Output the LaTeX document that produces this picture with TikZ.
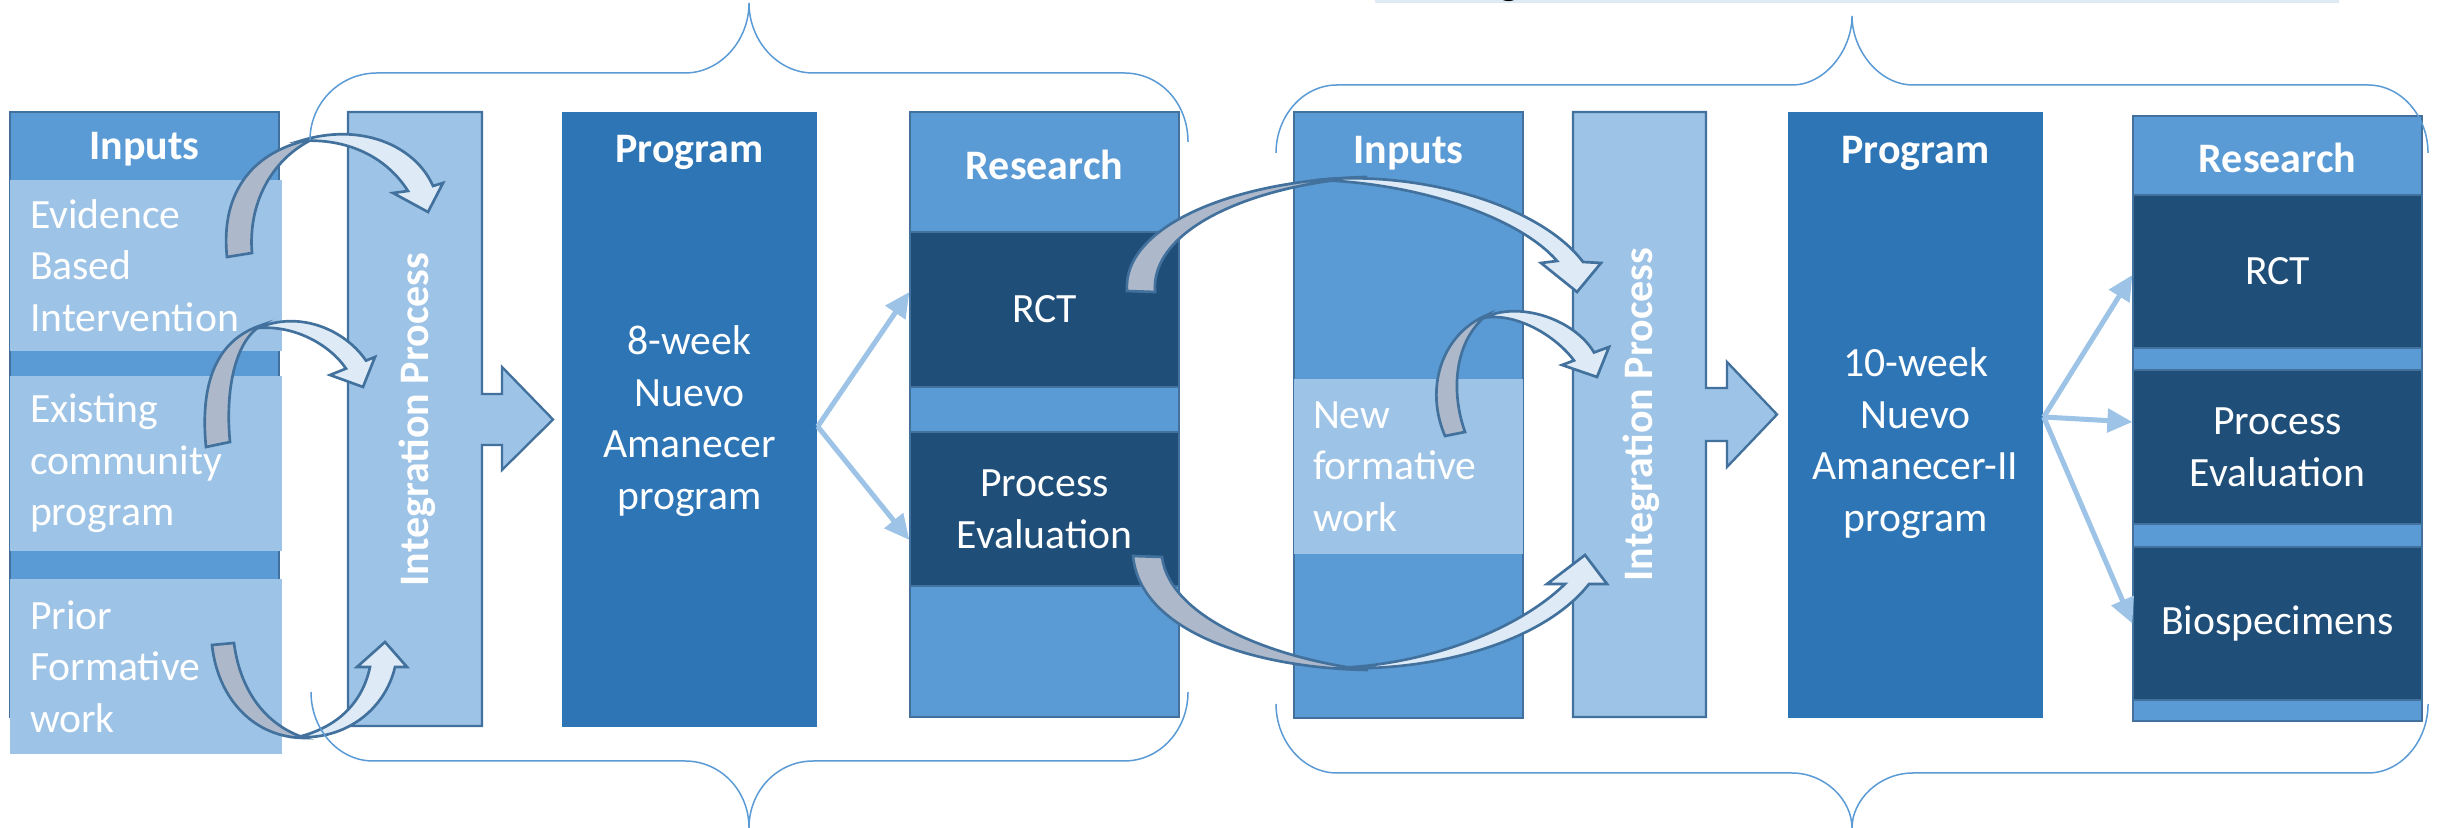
\documentclass[tikz,border=0pt]{standalone}
\usepackage{fontspec}
\setmainfont{Carlito}
\usetikzlibrary{arrows.meta,calc}

\definecolor{midblue}{HTML}{5B9BD5}
\definecolor{liteblue}{HTML}{9DC3E6}
\definecolor{progblue}{HTML}{2E75B6}
\definecolor{darkblue}{HTML}{1F4E79}
\definecolor{edgeblue}{HTML}{41719C}
\definecolor{ribgray}{HTML}{ADB9CA}
\definecolor{ribpale}{HTML}{DEEBF7}

\begin{document}
\begin{tikzpicture}[x=0.3pt,y=0.3pt,yscale=-1,xscale=1,
  txt/.style={text=white,inner sep=0pt,align=center,font=\fontsize{12.5}{15.5}\selectfont},
  headtxt/.style={txt,font=\fontsize{12.6}{15.5}\selectfont\bfseries},
  colbox/.style={draw=edgeblue,line width=0.6pt,fill=midblue,inner sep=0pt,minimum height=181.5pt},
  litebox/.style={fill=liteblue,text=white,inner sep=0pt,inner xsep=6pt,align=left,minimum height=52.5pt,font=\fontsize{12.5}{15.5}\selectfont},
  darkbox/.style={txt,fill=darkblue,draw=edgeblue,line width=0.4pt,minimum height=46.2pt},
  progbox/.style={fill=progblue,inner sep=0pt,minimum width=76.5pt},
  intbar/.style={fill=liteblue,draw=edgeblue,line width=0.7pt},
  ribback/.style={fill=ribgray,draw=edgeblue,line width=0.8pt},
  ribfront/.style={fill=ribpale,draw=edgeblue,line width=0.8pt},
  thinarrow/.style={draw=liteblue,line width=1.5pt,-{Triangle[length=7.5pt,width=7pt]}},
  brace/.style={draw=midblue,line width=0.45pt}]
%set diagram frame to the reference size
\path[fill=white,use as bounding box] (0,0) rectangle (2438,828);

%Caption strip (cut off at the top)
\fill[ribpale] (1375,0) rectangle (2339,3);
\node[font=\fontsize{12.6}{15}\selectfont\bfseries,anchor=base,inner sep=0pt] (capfrag) at (1509,-5) {g};

%%%%% first study
%Shape: Inputs column
\node[colbox,minimum width=80.7pt] (in1) at (144.5,414.5) {};
\node[headtxt] (in1head) at (144.5,149) {Inputs};
\node[litebox,minimum width=81.6pt,text width=69.6pt,minimum height=51.3pt] (ebi) at (146,265.5) {Evidence\\Based\\Intervention};
\node[litebox,minimum width=81.6pt,text width=69.6pt] (ecp) at (146,463.5) {Existing\\community\\program};
\node[litebox,minimum width=81.6pt,text width=69.6pt] (pfw) at (146,666.5) {Prior\\Formative\\work};

%Shape: Integration arrow
\draw[intbar] (348,112) -- (482,112) -- (482,394) -- (502,394) -- (502,367) -- (553,419.5) -- (502,470) -- (502,445) -- (482,445) -- (482,726) -- (348,726) -- cycle;
\node[headtxt,rotate=90] (int1) at (417,419.5) {Integration Process};

%Shape: Program column
\node[progbox,minimum height=184.5pt] (prog1) at (689.5,419.5) {};
\node[headtxt] (prog1head) at (689.5,152) {Program};
\node[txt] (prog1txt) at (689.5,421) {8-week\\Nuevo\\Amanecer\\program};

%Shape: Research column
\node[colbox,minimum width=80.7pt] (res1) at (1044.5,414.5) {};
\node[headtxt] (res1head) at (1044.5,165) {Research};
\node[darkbox,minimum width=80.7pt,minimum height=46.5pt] (rct1) at (1044.5,309.5) {RCT};
\node[darkbox,minimum width=80.7pt] (pe1) at (1044.5,509) {Process\\Evaluation};

%%%%% second study
%Shape: Inputs column
\node[colbox,minimum width=68.7pt,minimum height=181.8pt] (in2) at (1408.5,415) {};
\node[headtxt] (in2head) at (1408.5,153) {Inputs};
\node[litebox,minimum width=68.7pt,text width=57.3pt,inner xsep=5.7pt] (nfw) at (1408.5,466.5) {New\\formative\\work};

%Shape: Integration arrow
\draw[intbar] (1573,112) -- (1706,112) -- (1706,388) -- (1727,388) -- (1727,362) -- (1777,414.5) -- (1727,467) -- (1727,441) -- (1706,441) -- (1706,717) -- (1573,717) -- cycle;
\node[headtxt,rotate=90] (int2) at (1641,414.5) {Integration Process};

%Shape: Program column
\node[progbox,minimum height=181.8pt] (prog2) at (1915.5,415) {};
\node[headtxt] (prog2head) at (1915.5,153) {Program};
\node[txt] (prog2txt) at (1915.5,443) {10-week\\Nuevo\\Amanecer-II\\program};

%Shape: Research column
\node[colbox,minimum width=86.7pt] (res2) at (2277.5,418.5) {};
\node[headtxt] (res2head) at (2277.5,158) {Research};
\node[darkbox,minimum width=86.7pt,minimum height=45.9pt] (rct2) at (2277.5,271.5) {RCT};
\node[darkbox,minimum width=86.7pt] (pe2) at (2277.5,447) {Process\\Evaluation};
\node[darkbox,minimum width=86.7pt,minimum height=45.9pt] (bio2) at (2277.5,623.5) {Biospecimens};

%Straight Lines: program to research
\draw[thinarrow] ($(prog1.east)+(0,7)$) -- ($(rct1.west)+(0,-17.5)$);
\draw[thinarrow] ($(prog1.east)+(0,7)$) -- ($(pe1.west)+(0,31)$);
\draw[thinarrow] ($(prog2.east)+(0,2)$) -- ($(rct2.west)+(0,3.5)$);
\draw[thinarrow] ($(prog2.east)+(0,2)$) -- ($(pe2.west)+(0,-25)$);
\draw[thinarrow] ($(prog2.east)+(0,2)$) -- (bio2.west);

%Curved Arrows: evidence based intervention
\draw[ribback] (227,257) .. controls (220,190) and (255,150) .. (313,139) .. controls (270,160) and (248,205) .. (252,253) -- cycle;
\draw[ribfront] (300,141) .. controls (360,122) and (415,145) .. (433,186) -- (443,183) -- (428,212) -- (393,193) -- (408,191) .. controls (385,155) and (345,138) .. (300,141) -- cycle;
%Curved Arrows: existing community program
\draw[ribback] (206,447) .. controls (200,385) and (215,340) .. (262,325) .. controls (235,340) and (225,390) .. (230,442) -- cycle;
\draw[ribfront] (258,328) .. controls (300,310) and (345,330) .. (366,360.6) -- (375,357) -- (363,387) -- (330,375) -- (346,368.6) .. controls (330,345) and (295,325) .. (258,328) -- cycle;
%Curved Arrows: prior formative work
\draw[ribback] (212,645) .. controls (218,700) and (255,738) .. (305,738) .. controls (265,725) and (240,690) .. (234,643) -- cycle;
\draw[ribfront] (298,737) .. controls (345,740) and (385,710) .. (395,667) -- (407,667) -- (385,642) -- (357,667) -- (370,667) .. controls (362,705) and (335,728) .. (298,737) -- cycle;
%Curved Arrows: RCT to second integration
\draw[ribback] (1127,291) .. controls (1122,228) and (1230,180) .. (1367,177) .. controls (1250,185) and (1150,230) .. (1155,292) -- cycle;
\draw[ribfront] (1317,180) .. controls (1420,170) and (1540,205) .. (1583,262) -- (1601,263) -- (1577,292) -- (1541,263) -- (1557,261) .. controls (1520,218) and (1420,183) .. (1317,180) -- cycle;
%Curved Arrows: new formative work
\draw[ribback] (1487,315) .. controls (1440,335) and (1425,390) .. (1445,436) -- (1465,432) .. controls (1450,390) and (1455,340) .. (1487,315) -- cycle;
\draw[ribfront] (1483,318) .. controls (1520,300) and (1575,320) .. (1594,352.5) -- (1609,347) -- (1597,377) -- (1562,365) -- (1574,360.5) .. controls (1555,335) and (1515,312) .. (1483,318) -- cycle;
%Curved Arrows: process evaluation to second integration
\draw[ribback] (1133,556) .. controls (1140,630) and (1250,668) .. (1368,670) .. controls (1280,660) and (1170,620) .. (1162,557) -- cycle;
\draw[ribfront] (1335,668) .. controls (1440,672) and (1545,640) .. (1589,584) -- (1607,584) -- (1585,555) -- (1547,584) -- (1565,584) .. controls (1520,628) and (1430,665) .. (1335,668) -- cycle;

%Braces
\draw[brace] (310,140) .. controls (310,103) and (340,73) .. (377,73) -- (685,73) .. controls (720,73) and (749,41) .. (749,3) .. controls (749,41) and (778,73) .. (813,73) -- (1124,73) .. controls (1160,73) and (1188,103) .. (1188,142);
\draw[brace] (311,692) .. controls (311,730) and (339,761) .. (373,761) -- (685,761) .. controls (720,761) and (749,790) .. (749,828) .. controls (749,790) and (778,761) .. (813,761) -- (1124,761) .. controls (1160,761) and (1188,730) .. (1188,692);
\draw[brace] (1276,153) .. controls (1276,116) and (1303,85) .. (1337,85) -- (1792,85) .. controls (1825,85) and (1852,50) .. (1852,16) .. controls (1852,50) and (1879,85) .. (1913,85) -- (2368,85) .. controls (2401,85) and (2428,116) .. (2428,153);
\draw[brace] (1276,704) .. controls (1276,741) and (1303,773) .. (1337,773) -- (1792,773) .. controls (1825,773) and (1852,800) .. (1852,828) .. controls (1852,800) and (1879,773) .. (1913,773) -- (2368,773) .. controls (2401,773) and (2428,741) .. (2428,704);

\end{tikzpicture}
\end{document}
